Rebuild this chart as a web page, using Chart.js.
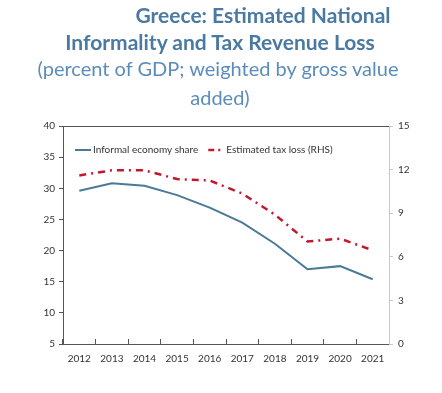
<!DOCTYPE html>
<html><head><meta charset="utf-8">
<script src="https://cdn.jsdelivr.net/npm/chart.js@4.4.1/dist/chart.umd.min.js"></script>
<style>
html,body{margin:0;padding:0;background:#fff;}
#wrap{position:relative;width:442px;height:393px;overflow:hidden;}
canvas{position:absolute;left:0;top:0;}
.t{position:absolute;white-space:nowrap;font-family:Lato,"Noto Sans",sans-serif;transform:translateX(-50%);line-height:24px;}
.b{font-weight:bold;font-size:21px;color:#4a7aa2;}
.s{font-size:20px;color:#5b8dba;}
</style></head>
<body><div id="wrap">
<canvas id="c" width="442" height="393"></canvas>
<div class="t b" style="left:263px;top:3px">Greece: Estimated National</div>
<div class="t b" style="left:220px;top:30px">Informality and Tax Revenue Loss</div>
<div class="t s" style="left:218px;top:56px">(percent of GDP; weighted by gross value</div>
<div class="t s" style="left:220px;top:85px">added)</div>
</div>
<script>
const years = ["2012","2013","2014","2015","2016","2017","2018","2019","2020","2021"];
const informalShare = [29.6, 30.8, 30.4, 28.9, 26.9, 24.5, 21.1, 17.0, 17.5, 15.4];
const taxLoss = [11.6, 11.95, 11.95, 11.35, 11.25, 10.35, 8.9, 7.05, 7.25, 6.45];
const leftTicks = [5, 40, 5];
const rightTicks = [0, 15, 3];

const FONTFAM = "Lato, 'Noto Sans', sans-serif";
const FONT = {family: FONTFAM, size: 10};
const DARK = '#555555';
const LIGHT = '#c8c8c8';

const insideLegend = {
  id: 'insideLegend',
  afterDatasetsDraw(chart) {
    const ctx = chart.ctx, area = chart.chartArea;
    let x = area.left + 12;
    const y = area.top + 24;
    ctx.save();
    ctx.font = '10px ' + FONTFAM;
    ctx.textBaseline = 'middle';
    ctx.textAlign = 'left';
    chart.data.datasets.forEach((d) => {
      ctx.beginPath();
      ctx.setLineDash(d.borderDash ? [6, 4, 2, 4] : []);
      ctx.strokeStyle = d.borderColor;
      ctx.lineWidth = d.borderWidth;
      ctx.moveTo(x, y);
      ctx.lineTo(x + 16, y);
      ctx.stroke();
      ctx.setLineDash([]);
      x += 18;
      ctx.fillStyle = '#333';
      ctx.fillText(d.label, x, y);
      x += ctx.measureText(d.label).width + 10;
    });
    ctx.restore();
  }
};

new Chart(document.getElementById('c'), {
  type: 'line',
  data: {
    labels: years,
    datasets: [
      {label: 'Informal economy share', data: informalShare, yAxisID: 'y', xAxisID: 'x',
       borderColor: '#4a7a96', backgroundColor: '#4a7a96', borderWidth: 2, pointRadius: 0, tension: 0},
      {label: 'Estimated tax loss (RHS)', data: taxLoss, yAxisID: 'y1', xAxisID: 'x',
       borderColor: '#c0182c', backgroundColor: '#c0182c', borderWidth: 2.5, borderDash: [7, 5, 2, 5], pointRadius: 0, tension: 0}
    ]
  },
  plugins: [insideLegend],
  options: {
    responsive: false, animation: false,
    layout: {padding: {top: 126, left: 0, right: 0, bottom: 0}},
    plugins: {
      title: {display: false},
      tooltip: {enabled: false},
      legend: {display: false}
    },
    scales: {
      x: {
        type: 'category', position: 'bottom', offset: true,
        grid: {offset: true, drawOnChartArea: false, drawTicks: true, tickLength: -5, tickColor: DARK},
        border: {display: true, color: DARK, width: 1},
        ticks: {font: FONT, color: '#333', padding: 14, maxRotation: 0, autoSkip: false},
        afterFit(s) { s.height = 49; }
      },
      xTop: {
        type: 'category', position: 'top', labels: years, offset: true,
        grid: {drawOnChartArea: false, drawTicks: false},
        border: {display: true, color: DARK, width: 1},
        ticks: {display: false},
        afterFit(s) { s.height = 0; }
      },
      y: {
        position: 'left', min: leftTicks[0], max: leftTicks[1],
        ticks: {stepSize: leftTicks[2], font: FONT, color: '#333', padding: 4},
        grid: {drawOnChartArea: false, drawTicks: true, tickLength: 4, tickColor: DARK},
        border: {display: true, color: DARK, width: 1},
        afterFit(s) { s.width = 63; }
      },
      y1: {
        position: 'right', min: rightTicks[0], max: rightTicks[1],
        ticks: {stepSize: rightTicks[2], font: FONT, color: '#333', padding: 5},
        grid: {drawOnChartArea: false, drawTicks: true, tickLength: 4, tickColor: LIGHT},
        border: {display: true, color: LIGHT, width: 1},
        afterFit(s) { s.width = 53; }
      }
    }
  }
});
</script>
</body></html>
